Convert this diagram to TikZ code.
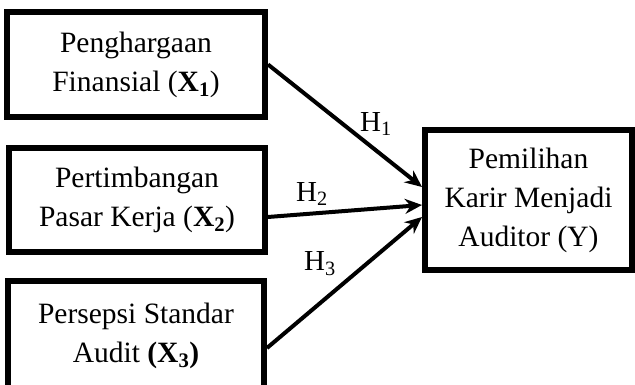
\documentclass[tikz,border=0pt]{standalone}
\usepackage{fontspec}
\setmainfont{Liberation Serif}
\usetikzlibrary{arrows.meta,calc}

\tikzset{
  varbox/.style={draw,line width=6pt,align=center,inner sep=0pt,
    font=\fontsize{29.5}{39}\selectfont},
  hlabel/.style={font=\fontsize{29}{34}\selectfont,inner sep=0pt},
}

\begin{document}
\begin{tikzpicture}[>={Stealth[length=17pt,width=15pt]},x=1pt,y=1pt]
            \useasboundingbox (0,0) rectangle (635,385);
            \node[varbox,minimum width=258pt,minimum height=105pt] (fin) at (136,320.5)
                {Penghargaan\\Finansial (\textbf{X}\textsubscript{\textbf{1}})};
            \node[varbox,minimum width=256pt,minimum height=104pt] (pasar) at (137,185)
                {Pertimbangan\\Pasar Kerja (\textbf{X}\textsubscript{\textbf{2}})};
            \node[varbox,minimum width=256pt,minimum height=110pt] (audit) at (136,49)
                {Persepsi Standar\\Audit \textbf{(X\textsubscript{3})}};
            \node[varbox,minimum width=207pt,minimum height=140pt] (karir) at (528.5,185)
                {Pemilihan\\Karir Menjadi\\Auditor (Y)};
            \draw[->,line width=4pt] (fin.east) -- ($(karir.west)+(0,13)$);
            \draw[->,line width=4pt] ($(pasar.east)+(0,-17)$) -- ($(karir.west)+(0,-5)$);
            \draw[->,line width=4pt] ($(audit.east)+(0,-12)$) -- ($(karir.west)+(0,-17)$);
            \node[hlabel] (h1) at (376,261) {H\textsubscript{1}};
            \node[hlabel] (h2) at (312,191) {H\textsubscript{2}};
            \node[hlabel] (h3) at (320,121) {H\textsubscript{3}};
        \end{tikzpicture}
\end{document}
